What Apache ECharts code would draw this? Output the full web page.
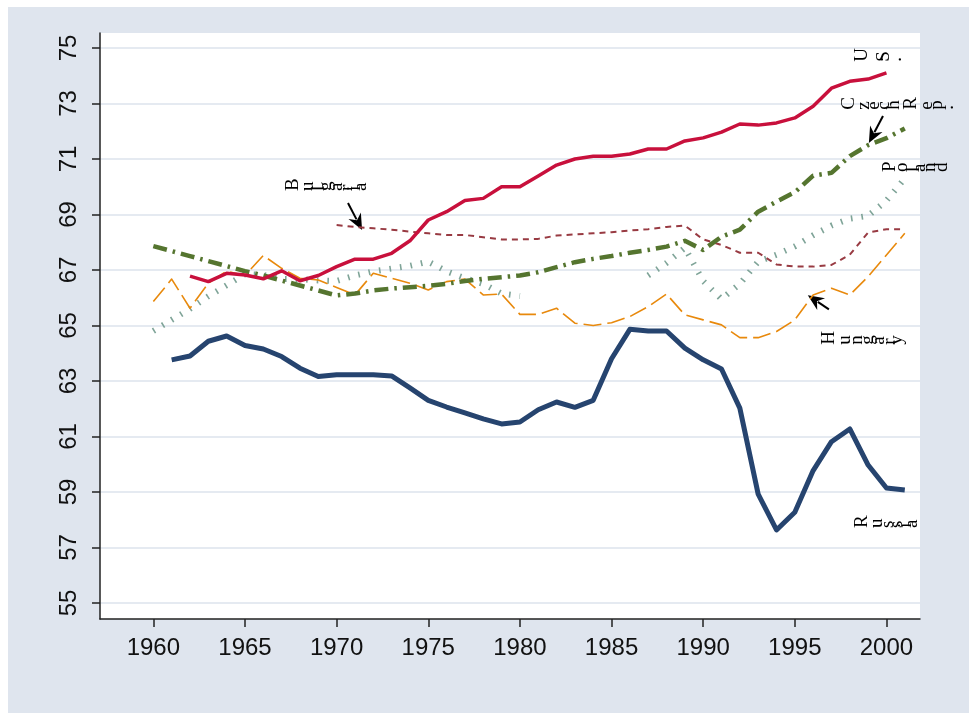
<!DOCTYPE html>
<html><head><meta charset="utf-8">
<script src="https://cdn.jsdelivr.net/npm/echarts@6/dist/echarts.min.js"></script>
<style>html,body{margin:0;padding:0;background:#fff;width:969px;height:713px;overflow:hidden}
#c{position:absolute;left:8px;top:7px;width:961px;height:706px}</style></head>
<body><div id="c"></div><script>
const years = [1960,1961,1962,1963,1964,1965,1966,1967,1968,1969,1970,1971,1972,1973,1974,1975,1976,1977,1978,1979,1980,1981,1982,1983,1984,1985,1986,1987,1988,1989,1990,1991,1992,1993,1994,1995,1996,1997,1998,1999,2000,2001];
const russia = [null,63.76,63.9,64.43,64.62,64.28,64.15,63.88,63.46,63.16,63.22,63.22,63.22,63.18,62.75,62.3,62.06,61.85,61.63,61.45,61.52,61.96,62.24,62.05,62.3,63.8,64.86,64.8,64.8,64.18,63.76,63.43,62.02,58.92,57.63,58.27,59.77,60.81,61.27,59.97,59.14,59.07];
const us = [null,null,66.78,66.58,66.88,66.82,66.68,66.97,66.61,66.8,67.12,67.39,67.39,67.6,68.05,68.8,69.1,69.5,69.58,70.0,70.0,70.39,70.78,71.0,71.1,71.1,71.18,71.36,71.36,71.65,71.76,71.97,72.26,72.22,72.3,72.48,72.9,73.55,73.8,73.88,74.1,null];
const czech = [67.86,67.68,67.5,67.32,67.14,66.96,66.8,66.62,66.44,66.26,66.08,66.15,66.26,66.33,66.38,66.43,66.5,66.6,66.68,66.74,66.8,66.92,67.1,67.28,67.4,67.5,67.62,67.72,67.84,68.05,67.72,68.2,68.45,69.1,69.46,69.8,70.4,70.5,71.1,71.5,71.75,72.1];
const hungary = [65.86,66.67,65.62,66.52,66.96,66.8,67.52,67.06,66.7,66.64,66.37,66.1,66.88,66.7,66.52,66.28,66.58,66.67,66.1,66.13,65.4,65.4,65.62,65.08,65.0,65.1,65.32,65.68,66.13,65.38,65.2,65.02,64.56,64.56,64.78,65.2,66.1,66.34,66.1,66.76,67.54,68.32];
const bulgaria = [null,null,null,null,null,null,null,null,null,null,68.62,68.55,68.5,68.45,68.38,68.32,68.26,68.26,68.18,68.1,68.1,68.12,68.24,68.28,68.32,68.36,68.42,68.47,68.55,68.6,68.1,67.9,67.62,67.62,67.2,67.12,67.12,67.18,67.55,68.35,68.47,68.47];
const poland = [64.8,65.2,65.6,66.05,66.45,66.85,66.82,66.67,66.67,66.62,66.6,66.8,66.95,67.05,67.15,67.3,66.95,66.7,66.5,66.15,66.06,null,null,null,null,null,null,66.8,67.25,67.8,66.6,65.95,66.5,67.3,67.55,67.85,68.25,68.6,68.85,68.95,69.5,70.3];
const xTicks = [1960,1965,1970,1975,1980,1985,1990,1995,2000];
const yTicks = [55,57,59,61,63,65,67,69,71,73,75];

const labelDefs = [
  {text:'U.S.', at:[1998.27,74.5]},
  {text:'Czech Rep.', at:[1997.57,72.77]},
  {text:'Poland', at:[1999.81,70.53]},
  {text:'Bulgaria', at:[1967.24,69.85]},
  {text:'Hungary', at:[1996.48,64.3]},
  {text:'Russia', at:[1998.27,57.7]}
];
const arrowDefs = [
  {from:[1970.62,69.41], to:[1971.39,68.44]},
  {from:[1999.81,72.55], to:[1999.04,71.58]},
  {from:[1996.86,65.58], to:[1995.71,66.09]}
];

function pairs(v){ return years.map((y,i)=>[y, v[i]==null?'-':v[i]]); }

const chart = echarts.init(document.getElementById('c'), null, {renderer:'canvas'});
function ser(name, v, color, width, type){
  return {name, type:'line', data:pairs(v), showSymbol:false, symbol:'none', connectNulls:false,
    lineStyle:{color, width, type, cap:'butt', join:'round'}, emphasis:{disabled:true}, silent:true};
}
chart.setOption({
  animation:false,
  backgroundColor:'#dfe5ee',
  grid:{left:92, top:26, right:49, bottom:94, show:true, backgroundColor:'#ffffff', borderWidth:0},
  xAxis:{type:'value', min:1957.09, max:2001.83,
    axisLine:{show:true, onZero:false, lineStyle:{color:'#222', width:1.5}},
    axisTick:{show:true, length:8, lineStyle:{color:'#222', width:1.5}, customValues:xTicks},
    axisLabel:{customValues:xTicks, formatter:v=>String(v), color:'#111', fontSize:24, fontFamily:'Liberation Sans', margin:17},
    splitLine:{show:false}},
  yAxis:{type:'value', min:54.42, max:75.54,
    axisLine:{show:true, onZero:false, lineStyle:{color:'#222', width:1.5}},
    axisTick:{show:true, length:8, lineStyle:{color:'#222', width:1.5}, customValues:yTicks},
    axisLabel:{customValues:yTicks, formatter:v=>String(v), color:'#111', fontSize:24, fontFamily:'Liberation Sans', rotate:90, margin:19},
    splitLine:{show:true, lineStyle:{color:'#dce3ed', width:1.5}}},
  series:[
    ser('Poland', poland, '#7fa498', 6, [1.6,9]),
    ser('Bulgaria', bulgaria, '#983a42', 2, [6,5]),
    ser('Hungary', hungary, '#e8890c', 1.6, [18,6]),
    ser('Czech Rep.', czech, '#55752f', 4.5, [14,6,2.5,6]),
    ser('U.S.', us, '#c8103c', 3.5, 'solid'),
    ser('Russia', russia, '#26446f', 5, 'solid')
  ]
});

const FS = 19, FF = '"Liberation Serif","DejaVu Serif",serif', SCALE = 1.2;
const ctx = document.createElement('canvas').getContext('2d');
ctx.font = FS + 'px ' + FF;
const els = [];
labelDefs.forEach(l=>{
  const p = chart.convertToPixel({gridIndex:0}, l.at);
  let cx = p[0] + 0.36*FS;
  for (const ch of l.text){
    if (ch !== ' ') els.push({type:'text', x:cx, y:p[1], rotation:Math.PI/2, silent:true,
      style:{text:ch, fontSize:FS, fontFamily:FF, fill:'#000', align:'left', verticalAlign:'middle'}});
    cx += ctx.measureText(ch).width*SCALE;
  }
});
arrowDefs.forEach(a=>{
  const p0 = chart.convertToPixel({gridIndex:0}, a.from);
  const p1 = chart.convertToPixel({gridIndex:0}, a.to);
  const dx=p1[0]-p0[0], dy=p1[1]-p0[1], L=Math.hypot(dx,dy), ux=dx/L, uy=dy/L;
  const hl=16, hw=7;
  const bx=p1[0]-ux*hl, by=p1[1]-uy*hl;
  els.push({type:'line', silent:true, shape:{x1:p0[0],y1:p0[1],x2:bx+ux*4,y2:by+uy*4}, style:{stroke:'#000', lineWidth:2}});
  els.push({type:'polygon', silent:true, shape:{points:[[p1[0],p1[1]],[bx-uy*hw,by+ux*hw],[bx+ux*5,by+uy*5],[bx+uy*hw,by-ux*hw]]}, style:{fill:'#000'}});
});
chart.setOption({graphic:{elements:els}});
</script></body></html>
